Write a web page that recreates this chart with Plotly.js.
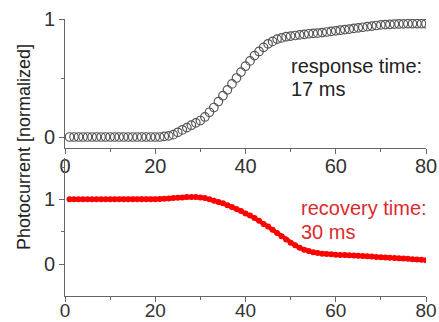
<!DOCTYPE html>
<html>
<head>
<meta charset="utf-8">
<script src="https://cdn.plot.ly/plotly-3.0.1.min.js"></script>
<style>html,body{margin:0;padding:0;background:#fff;}#chart{width:439px;height:322px;}</style>
</head>
<body>
<div id="chart"></div>
<script>
// time axis (ms)
const timeMs = [];
for (let i = 1; i <= 80; i++) timeMs.push(i);

// response (top panel), normalized photocurrent
const responseValues = [
  0.00,0.00,0.00,0.00,0.00,0.00,0.00,0.00,0.00,0.00,
  0.00,0.00,0.00,0.00,0.00,0.00,0.00,0.00,0.00,0.00,
  0.00,0.005,0.01,0.02,0.04,0.06,0.08,0.10,0.12,0.14,
  0.17,0.21,0.25,0.30,0.35,0.40,0.45,0.50,0.55,0.60,
  0.645,0.69,0.725,0.76,0.79,0.81,0.83,0.84,0.85,0.855,
  0.86,0.865,0.87,0.875,0.878,0.88,0.885,0.89,0.895,0.90,
  0.905,0.91,0.915,0.92,0.925,0.93,0.935,0.94,0.945,0.95,
  0.953,0.955,0.957,0.958,0.959,0.96,0.96,0.96,0.96,0.96
];

// recovery (bottom panel), normalized photocurrent
const recoveryValues = [
  1.00,1.00,1.00,1.00,1.00,1.00,1.00,1.00,1.00,1.00,
  1.00,1.00,1.00,1.00,1.00,1.00,1.00,1.00,1.00,1.00,
  1.005,1.01,1.015,1.02,1.025,1.03,1.035,1.035,1.035,1.03,
  1.02,1.00,0.98,0.96,0.94,0.91,0.88,0.85,0.82,0.78,
  0.75,0.71,0.67,0.62,0.58,0.53,0.48,0.43,0.38,0.33,
  0.29,0.25,0.22,0.20,0.18,0.17,0.16,0.155,0.15,0.145,
  0.14,0.138,0.135,0.13,0.128,0.125,0.12,0.115,0.11,0.105,
  0.10,0.097,0.093,0.09,0.085,0.08,0.075,0.07,0.065,0.06
];

const xTickVals = [0, 20, 40, 60, 80];
const yTickVals = [0, 1];
const yTitle = 'Photocurrent [normalized]';
const responseText = ['response time:', '17 ms'];
const recoveryText = ['recovery time:', '30 ms'];

const W = 439, H = 322;
const px = x => x / W;
const py = y => (H - y) / H;

const tickFont = {family: 'Liberation Sans, Arial, sans-serif', size: 20, color: '#333'};
const axColor = '#666';

function xAxis(anchor, standoff, fsize) {
  return {
    domain: [px(65), px(426)], anchor: anchor,
    range: [0, 80], tickvals: xTickVals,
    showline: true, linecolor: axColor, linewidth: 1,
    ticks: 'outside', ticklen: 5, tickcolor: axColor, tickwidth: 1,
    ticklabelstandoff: standoff,
    minor: {ticks: 'outside', ticklen: 3, dtick: 10, tick0: 0, tickcolor: axColor, showgrid: false},
    showgrid: false, zeroline: false,
    tickfont: Object.assign({}, tickFont, {size: fsize})
  };
}
function yAxis(anchor, dom, rng) {
  return {
    domain: dom, anchor: anchor, range: rng, tickvals: yTickVals,
    showline: true, linecolor: axColor, linewidth: 1,
    ticks: 'outside', ticklen: 5, tickcolor: axColor, tickwidth: 1,
    minor: {ticks: 'outside', ticklen: 3, dtick: 0.5, tick0: 0, tickcolor: axColor, showgrid: false},
    showgrid: false, zeroline: false, tickfont: tickFont
  };
}

const traces = [
  {
    x: timeMs, y: responseValues, xaxis: 'x', yaxis: 'y',
    type: 'scatter', mode: 'markers',
    marker: {symbol: 'circle-open', size: 8.5, color: '#555', line: {width: 1.2, color: '#555'}}
  },
  {
    x: timeMs, y: recoveryValues, xaxis: 'x2', yaxis: 'y2',
    type: 'scatter', mode: 'lines+markers',
    line: {color: '#ff0000', width: 4},
    marker: {symbol: 'circle', size: 6, color: '#ff0000'}
  }
];

const annFont = {family: 'Liberation Sans, Arial, sans-serif', size: 20, color: '#222'};
const redFont = {family: 'Liberation Sans, Arial, sans-serif', size: 20, color: '#dd2a2e'};

const layout = {
  width: W, height: H,
  margin: {l: 0, r: 0, t: 0, b: 0},
  paper_bgcolor: '#fff', plot_bgcolor: '#fff',
  showlegend: false,
  xaxis: xAxis('y', -5, 20),
  yaxis: yAxis('x', [py(148), py(19)], [-0.093, 1.0]),
  xaxis2: xAxis('y2', -8, 19),
  yaxis2: yAxis('x2', [py(296), py(158)], [-0.495, 1.64]),
  annotations: [
    {xref: 'paper', yref: 'paper', x: px(24), y: py(147), text: yTitle, textangle: -90,
     showarrow: false, xanchor: 'center', yanchor: 'middle',
     font: {family: 'Liberation Sans, Arial, sans-serif', size: 18, color: '#222'}},
    {xref: 'paper', yref: 'paper', x: px(289), y: py(66), text: responseText[0], showarrow: false,
     xanchor: 'left', yanchor: 'middle', font: annFont},
    {xref: 'paper', yref: 'paper', x: px(289), y: py(89), text: responseText[1], showarrow: false,
     xanchor: 'left', yanchor: 'middle', font: annFont},
    {xref: 'paper', yref: 'paper', x: px(299), y: py(208), text: recoveryText[0], showarrow: false,
     xanchor: 'left', yanchor: 'middle', font: redFont},
    {xref: 'paper', yref: 'paper', x: px(299), y: py(232), text: recoveryText[1], showarrow: false,
     xanchor: 'left', yanchor: 'middle', font: redFont}
  ]
};

Plotly.newPlot('chart', traces, layout, {staticPlot: true, displayModeBar: false});
</script>
</body>
</html>
